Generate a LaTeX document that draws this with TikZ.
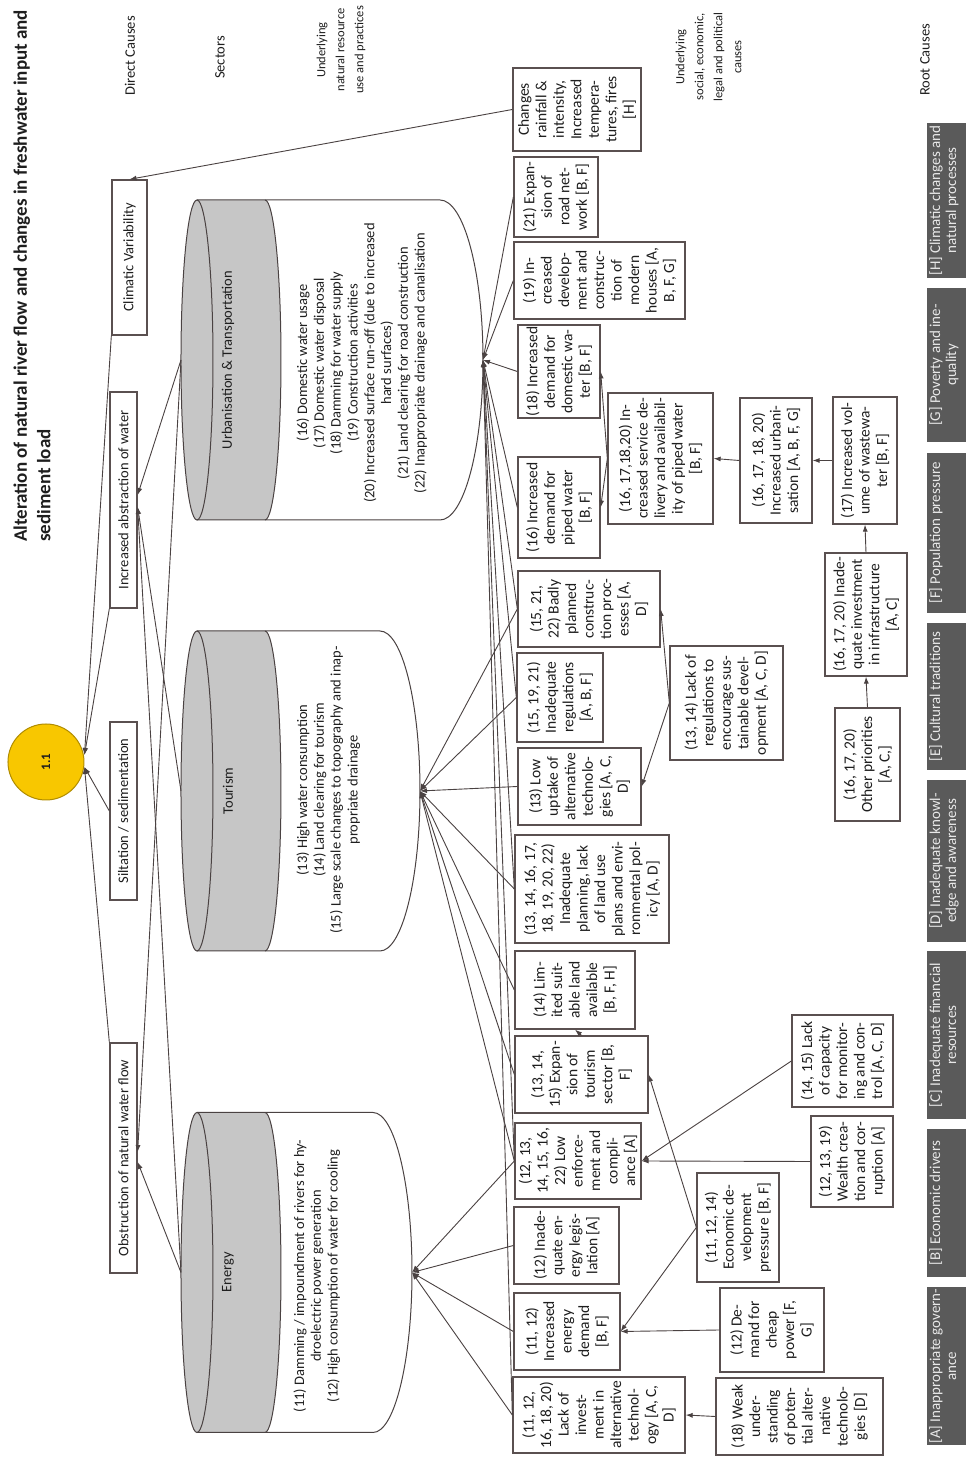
\documentclass[tikz,border=0pt]{standalone}
\usepackage{fontspec}
\setmainfont{Carlito}
\usetikzlibrary{arrows.meta,calc}
\definecolor{bord}{HTML}{5A5050}
\definecolor{lnc}{HTML}{4A4242}
\definecolor{txt}{HTML}{1E1E1E}
\definecolor{cylg}{HTML}{C6C6C6}
\definecolor{yel}{HTML}{F8C700}
\definecolor{yelb}{HTML}{B08C00}
\definecolor{rootf}{HTML}{5A5A5A}
\definecolor{roott}{HTML}{E8E8E8}
\begin{document}
\begin{tikzpicture}[x=1pt,y=1pt,rotate=90,transform shape,
  bx/.style={draw=bord,line width=1.3pt,align=center,inner sep=1pt,text=txt,font=\fontsize{15.5}{17.5}\selectfont},
  dc/.style={draw=bord,line width=1.3pt,inner sep=1pt,text=txt,font=\fontsize{14.5}{17}\selectfont},
  hd/.style={align=center,text=txt,font=\fontsize{14.5}{19}\selectfont},
  hdsmall/.style={align=center,text=txt,font=\fontsize{12.5}{19}\selectfont},
  cyl/.style={draw=lnc,line width=1pt},
  ln/.style={draw=lnc,line width=0.9pt},
  ar/.style={ln,-{Latex[length=7pt,width=5pt]}},
  cyltext/.style={align=center,text=txt,font=\fontsize{14.5}{16.8}\selectfont,anchor=north},
  rootlab/.style={align=center,text=roott,font=\fontsize{15}{16}\selectfont,anchor=north,inner sep=2pt},
]
\fill[white] (0,0) rectangle (1457,966);
\useasboundingbox (0,0) rectangle (1457,966);

% ---------- title and headers
\node[anchor=base west,inner sep=0,text=txt,font=\bfseries\fontsize{19}{23}\selectfont] (t1) at (915,939) {Alteration of natural river flow and changes in freshwater input and};
\node[anchor=base west,inner sep=0,text=txt,font=\bfseries\fontsize{19}{23}\selectfont] (t2) at (915,915.5) {sediment load};
\node[hd] (hdc) at (1401,836) {Direct Causes};
\node[hd] (hsec) at (1399.5,746) {Sectors};
\node[hdsmall] (hnr) at (1407,625) {Underlying\\natural resource\\use and practices};
\node[hdsmall] (hsoc) at (1400,257.5) {Underlying\\social, economic,\\legal and political\\causes};
\node[hd] (hroot) at (1397,41) {Root Causes};

% ---------- impact circle
\node[circle,draw=yelb,line width=1pt,fill=yel,minimum size=76,inner sep=0,text=txt,font=\bfseries\fontsize{13}{15}\selectfont] (c11) at (695,920) {1.1};

% ---------- direct causes
\node[dc,minimum width=155,minimum height=35] (clim) at (1199.5,836.5) {Climatic Variability};
\node[dc,minimum width=216,minimum height=27] (abs) at (957,842.5) {Increased abstraction of water};
\node[dc,minimum width=178,minimum height=27] (silt) at (646,842.5) {Siltation / sedimentation};
\node[dc,minimum width=230,minimum height=27] (obs) at (299,842.5) {Obstruction of natural water flow};

% ---------- sectors (cylinders)
\foreach \xc/\yb/\rb/\nm in {1097/526/43/U, 666/586/40/T, 184.5/593/39/E}{
  \fill[cylg] (\xc-160,701) arc[start angle=180,end angle=360,x radius=160,y radius=16] -- (\xc+160,769) arc[start angle=0,end angle=180,x radius=160,y radius=16] -- cycle;
  \draw[cyl] (\xc,769) ellipse [x radius=160,y radius=16];
  \draw[cyl] (\xc-160,701) arc[start angle=180,end angle=360,x radius=160,y radius=16];
  \draw[cyl] (\xc-160,769) -- (\xc-160,\yb) arc[start angle=180,end angle=360,x radius=160,y radius=\rb] -- (\xc+160,769);
  \coordinate (hub\nm) at (\xc,\yb-\rb);
  \coordinate (top\nm) at (\xc,785);
}
\node[text=txt,font=\fontsize{14.5}{16.5}\selectfont] (lu) at (1097,738) {Urbanisation \& Transportation};
\node[text=txt,font=\fontsize{14.5}{16.5}\selectfont] (lt) at (666,738) {Tourism};
\node[text=txt,font=\fontsize{14.5}{16.5}\selectfont] (le) at (184.5,738) {Energy};
\node[cyltext] (cu) at (1094,673) {(16) Domestic water usage\\(17) Domestic water disposal\\(18) Damming for water supply\\(19) Construction activities\\(20) Increased surface run-off (due to increased\\hard surfaces)\\(21) Land clearing for road construction\\(22) Inappropriate drainage and canalisation};
\node[cyltext] (ct) at (667,673) {(13) High water consumption\\(14) Land clearing for tourism\\(15) Large scale changes to topography and inap-\\propriate drainage};
\node[cyltext] (ce) at (181,676) {(11) Damming / impoundment of rivers for hy-\\droelectric power generation\\(12) High consumption of water for cooling};

% ---------- underlying natural resource use boxes
\node[bx,minimum width=83,minimum height=128] (hbox) at (1347.5,389) {Changes\\rainfall \&\\intensity,\\Increased\\tempera-\\tures, fires\\{[H]}};
\node[bx,minimum width=80,minimum height=84] (road) at (1260,410) {(21) Expan-\\sion of\\road net-\\work [B, F]};
\node[bx,minimum width=77,minimum height=171] (dev19) at (1176.5,366.5) {(19) In-\\creased\\develop-\\ment and\\construc-\\tion of\\modern\\houses [A,\\B, F, G]};
\node[bx,minimum width=93,minimum height=82] (dom18) at (1085.5,407) {(18) Increased\\demand for\\domestic wa-\\ter [B, F]};
\node[bx,minimum width=101,minimum height=82] (pip16) at (949.5,407) {(16) Increased\\demand for\\piped water\\{[B, F]}};
\node[bx,minimum width=76,minimum height=142] (badly) at (848,377) {(15, 21,\\22) Badly\\planned\\construc-\\tion proc-\\esses [A,\\D]};
\node[bx,minimum width=89,minimum height=86] (inreg) at (759.5,406) {(15, 19, 21)\\Inadequate\\regulations\\{[A, B, F]}};
\node[bx,minimum width=77,minimum height=123] (lowup) at (670.5,386.5) {(13) Low\\uptake of\\alternative\\technolo-\\gies [A, C,\\D]};
\node[bx,minimum width=108,minimum height=154] (inplan) at (568,374) {(13, 14, 16, 17,\\18, 19, 20, 22)\\Inadequate\\planning, lack\\of land use\\plans and envi-\\ronmental pol-\\icy [A, D]};
\node[bx,minimum width=78,minimum height=120] (limited) at (467,391) {(14) Lim-\\ited suit-\\able land\\available\\{[B, F, H]}};
\node[bx,minimum width=77,minimum height=133] (expan) at (382.5,384.5) {(13, 14,\\15) Expan-\\sion of\\tourism\\sector [B,\\F]};
\node[bx,minimum width=76,minimum height=126] (lowenf) at (296,388) {(12, 13,\\14, 15, 16,\\22) Low\\enforce-\\ment and\\compli-\\ance [A]};
\node[bx,minimum width=77,minimum height=105] (eleg) at (211.5,399.5) {(12) Inade-\\quate en-\\ergy legis-\\lation [A]};
\node[bx,minimum width=77,minimum height=106] (edem) at (125.5,399) {(11, 12)\\Increased\\energy\\demand\\{[B, F]}};
\node[bx,minimum width=76,minimum height=172] (lackinv) at (42,367) {(11, 12,\\16, 18, 20)\\Lack of\\invest-\\ment in\\alternative\\technol-\\ogy [A, C,\\D]};

% ---------- underlying social / economic boxes
\node[bx,minimum width=131,minimum height=105] (serv) at (998.5,305.5) {(16, 17,18,20) In-\\creased service de-\\livery and availabil-\\ity of piped water\\{[B, F]}};
\node[bx,minimum width=125,minimum height=72] (urb) at (996.5,190) {(16, 17, 18, 20)\\Increased urbani-\\sation [A, B, F, G]};
\node[bx,minimum width=127,minimum height=64] (ww) at (996.5,101) {(17) Increased vol-\\ume of wastewa-\\ter [B, F]};
\node[bx,minimum width=123,minimum height=82] (inv) at (842.5,100) {(16, 17, 20) Inade-\\quate investment\\in infrastructure\\{[A, C]}};
\node[bx,minimum width=113,minimum height=65] (oth) at (692.5,98.5) {(16, 17, 20)\\Other priorities\\{[A, C,]}};
\node[bx,minimum width=114,minimum height=113] (lreg) at (754,239.5) {(13, 14) Lack of\\regulations to\\encourage sus-\\tainable devel-\\opment [A, C, D]};
\node[bx,minimum width=92,minimum height=101] (lcap) at (396,123.5) {(14, 15) Lack\\of capacity\\for monitor-\\ing and con-\\trol [A, C, D]};
\node[bx,minimum width=91,minimum height=82] (wealth) at (295.5,114) {(12, 13, 19)\\Wealth crea-\\tion and cor-\\ruption [A]};
\node[bx,minimum width=109,minimum height=82] (edp) at (229.5,228) {(11, 12, 14)\\Economic de-\\velopment\\pressure [B, F]};
\node[bx,minimum width=84,minimum height=104] (cheap) at (127,194) {(12) De-\\mand for\\cheap\\power [F,\\G]};
\node[bx,minimum width=77,minimum height=167] (weak) at (40.5,166.5) {(18) Weak\\under-\\standing\\of poten-\\tial alter-\\native\\technolo-\\gies [D]};

% ---------- root causes
\foreach \xa/\xb/\nm/\tx in {1179/1334/rH/{[H] Climatic changes and\\natural processes},
  1015/1169/rG/{[G] Poverty and ine-\\quality},
  844/1004/rF/{[F] Population pressure},
  687/834/rE/{[E] Cultural traditions},
  515/677/rD/{[D] Inadequate knowl-\\edge and awareness},
  338/506/rC/{[C] Inadequate financial\\resources},
  180/328/rB/{[B] Economic drivers},
  12/170/rA/{[A] Inappropriate govern-\\ance}}{
  \fill[rootf] (\xa,-3) rectangle (\xb,39);
  \node[rootlab] (\nm) at ({(\xa+\xb)/2},39) {\tx};
}

% ---------- connectors: direct causes -> impact
\draw[ar] (hbox.north) -- (clim.east);
\draw[ar] (clim.north west) -- ($(c11.south)+(7,0)$);
\draw[ar] (abs.north west) -- ($(c11.south)+(7,0)$);
\draw[ar] (silt.north) -- ($(c11.south)+(-5,0)$);
\draw[ar] (obs.north east) -- ($(c11.south)+(-5,0)$);

% ---------- sectors -> direct causes
\draw[ar] (topU) -- ($(abs.south)+(5,0)$);
\draw[ar] (topT) -- ($(abs.south)+(-7,0)$);
\draw[ar] (topE) -- ($(abs.south)+(-7,0)$);
\draw[ar] (topU) -- ($(obs.south)+(6,0)$);
\draw[ar] (topE) -- ($(obs.south)+(-4,0)$);

% ---------- underlying -> sectors
\foreach \b in {road,dev19,dom18,pip16,badly,inreg,inplan,lowenf,lackinv} \draw[ar] (\b.north) -- (hubU);
\foreach \b in {badly,inreg,lowup,inplan,limited,expan,lowenf} \draw[ar] (\b.north) -- (hubT);
\foreach \b in {lowenf,eleg,edem,lackinv} \draw[ar] (\b.north) -- (hubE);

% ---------- among underlying causes
\draw[ar] (serv.north) -- (dom18.south);
\draw[ar] (serv.north) -- (pip16.south);
\draw[ar] (urb.north) -- (serv.south);
\draw[ar] (ww.north) -- (urb.south);
\draw[ar] (inv.east) -- (ww.west);
\draw[ar] (oth.east) -- (inv.west);
\draw[ar] (lreg.north) -- (badly.south);
\draw[ar] (lreg.north) -- (lowup.south);
\draw[ar] (expan.east) -- (limited.west);
\draw[ar] (edp.north) -- (expan.south);
\draw[ar] (edp.north) -- (edem.south);
\draw[ar] (cheap.north) -- (edem.south);
\draw[ar] (lcap.north) -- (lowenf.south);
\draw[ar] (wealth.north) -- (lowenf.south);
\draw[ar] (weak.north) -- (lackinv.south);
\end{tikzpicture}
\end{document}
